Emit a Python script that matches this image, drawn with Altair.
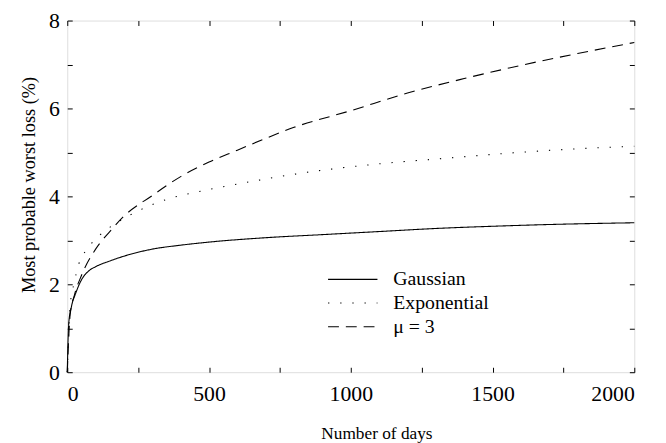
import altair as alt
import pandas as pd

series_names = ["Gaussian", "Exponential", "μ = 3"]

gauss_days = [0, 5, 15, 30, 50, 75, 100, 150, 200, 300, 400, 500, 700, 900, 1100, 1300, 1500, 1700, 2000]
gauss_vals = [0, 1.1, 1.5, 1.8, 2.1, 2.3, 2.4, 2.53, 2.64, 2.8, 2.89, 2.96, 3.06, 3.13, 3.2, 3.27, 3.32, 3.36, 3.40]

expo_days = [0, 10, 25, 40, 70, 115, 180, 260, 350, 450, 600, 870, 1100, 1340, 1550, 1790, 2000]
expo_vals = [0, 1.5, 2.05, 2.45, 2.8, 3.12, 3.42, 3.7, 3.93, 4.09, 4.28, 4.57, 4.74, 4.87, 4.98, 5.08, 5.14]

mu3_days = [0, 10, 25, 50, 100, 150, 200, 300, 400, 500, 600, 700, 800, 1000, 1200, 1400, 1600, 1800, 2000]
mu3_vals = [0, 1.3, 1.75, 2.2, 2.8, 3.2, 3.55, 4.02, 4.45, 4.78, 5.05, 5.32, 5.57, 5.95, 6.35, 6.68, 6.98, 7.25, 7.5]

x_ticks = [0, 250, 500, 750, 1000, 1250, 1500, 1750, 2000]
y_ticks = [0, 1, 2, 3, 4, 5, 6, 7, 8]

rows = []
for name, days, vals in [
    (series_names[0], gauss_days, gauss_vals),
    (series_names[1], expo_days, expo_vals),
    (series_names[2], mu3_days, mu3_vals),
]:
    for d, v in zip(days, vals):
        rows.append({"day": d, "value": v, "series": name})
df = pd.DataFrame(rows)

FONT = "Liberation Serif"
XS = alt.Scale(domain=[0, 2000], nice=False, zero=False)
YS = alt.Scale(domain=[0, 8], nice=False, zero=False)
IN_TICK = {"expr": "-5"}
base = alt.Chart(df)

lines = base.mark_line(color="black", strokeWidth=1.1, interpolate="monotone").encode(
    x=alt.X(
        "day:Q", scale=XS,
        axis=alt.Axis(
            orient="bottom", values=x_ticks, format="d",
            labelExpr="datum.value % 500 === 0 ? datum.label : ''",
            title="Number of days", ticks=True, tickSize=IN_TICK, tickColor="black",
            domain=False, grid=False, labelPadding=17, titlePadding=20, titleX=313,
            labelFontSize=22, titleFontSize=17.5, labelFont=FONT, titleFont=FONT,
            titleFontWeight="normal", labelColor="black", titleColor="black",
        ),
    ),
    y=alt.Y(
        "value:Q", scale=YS,
        axis=alt.Axis(
            orient="left", values=y_ticks,
            labelExpr="datum.value % 2 === 0 ? datum.label : ''",
            title="Most probable worst loss (%)", ticks=True, tickSize=IN_TICK, tickColor="black",
            domain=False, grid=False, labelPadding=13, titlePadding=10, titleY=166,
            labelFontSize=22, titleFontSize=18.5, labelFont=FONT, titleFont=FONT,
            titleFontWeight="normal", labelColor="black", titleColor="black",
        ),
    ),
    strokeDash=alt.StrokeDash(
        "series:N",
        sort=series_names,
        scale=alt.Scale(domain=series_names, range=[[1, 0], [1.3, 11], [11, 7]]),
        legend=alt.Legend(
            title=None, orient="none", legendX=278, legendY=251,
            symbolType="M-2.5,0H2.5", symbolSize=400, symbolStrokeWidth=1.1,
            symbolStrokeColor="black", symbolFillColor="transparent",
            labelFont=FONT, labelFontSize=20,
            labelColor="black", labelOffset=30, rowPadding=3,
        ),
    ),
)

mirror = base.mark_point(opacity=0, size=0).encode(
    x=alt.X("day:Q", scale=XS,
            axis=alt.Axis(orient="top", values=x_ticks, tickSize=IN_TICK, labels=False,
                          domain=False, title=None, grid=False, ticks=True, tickColor="black")),
    y=alt.Y("value:Q", scale=YS,
            axis=alt.Axis(orient="right", values=y_ticks, tickSize=IN_TICK, labels=False,
                          domain=False, title=None, grid=False, ticks=True, tickColor="black")),
)

chart = alt.layer(lines, mirror).resolve_axis(
    x="independent", y="independent"
).properties(
    width=574, height=356,
    autosize=alt.AutoSizeParams(type="none"),
    padding={"left": 60, "top": 10, "right": 24, "bottom": 72},
).configure_view(stroke="black", strokeWidth=1).configure(background="white")

chart.save("out.html", embed_options={"renderer": "svg", "actions": False})
